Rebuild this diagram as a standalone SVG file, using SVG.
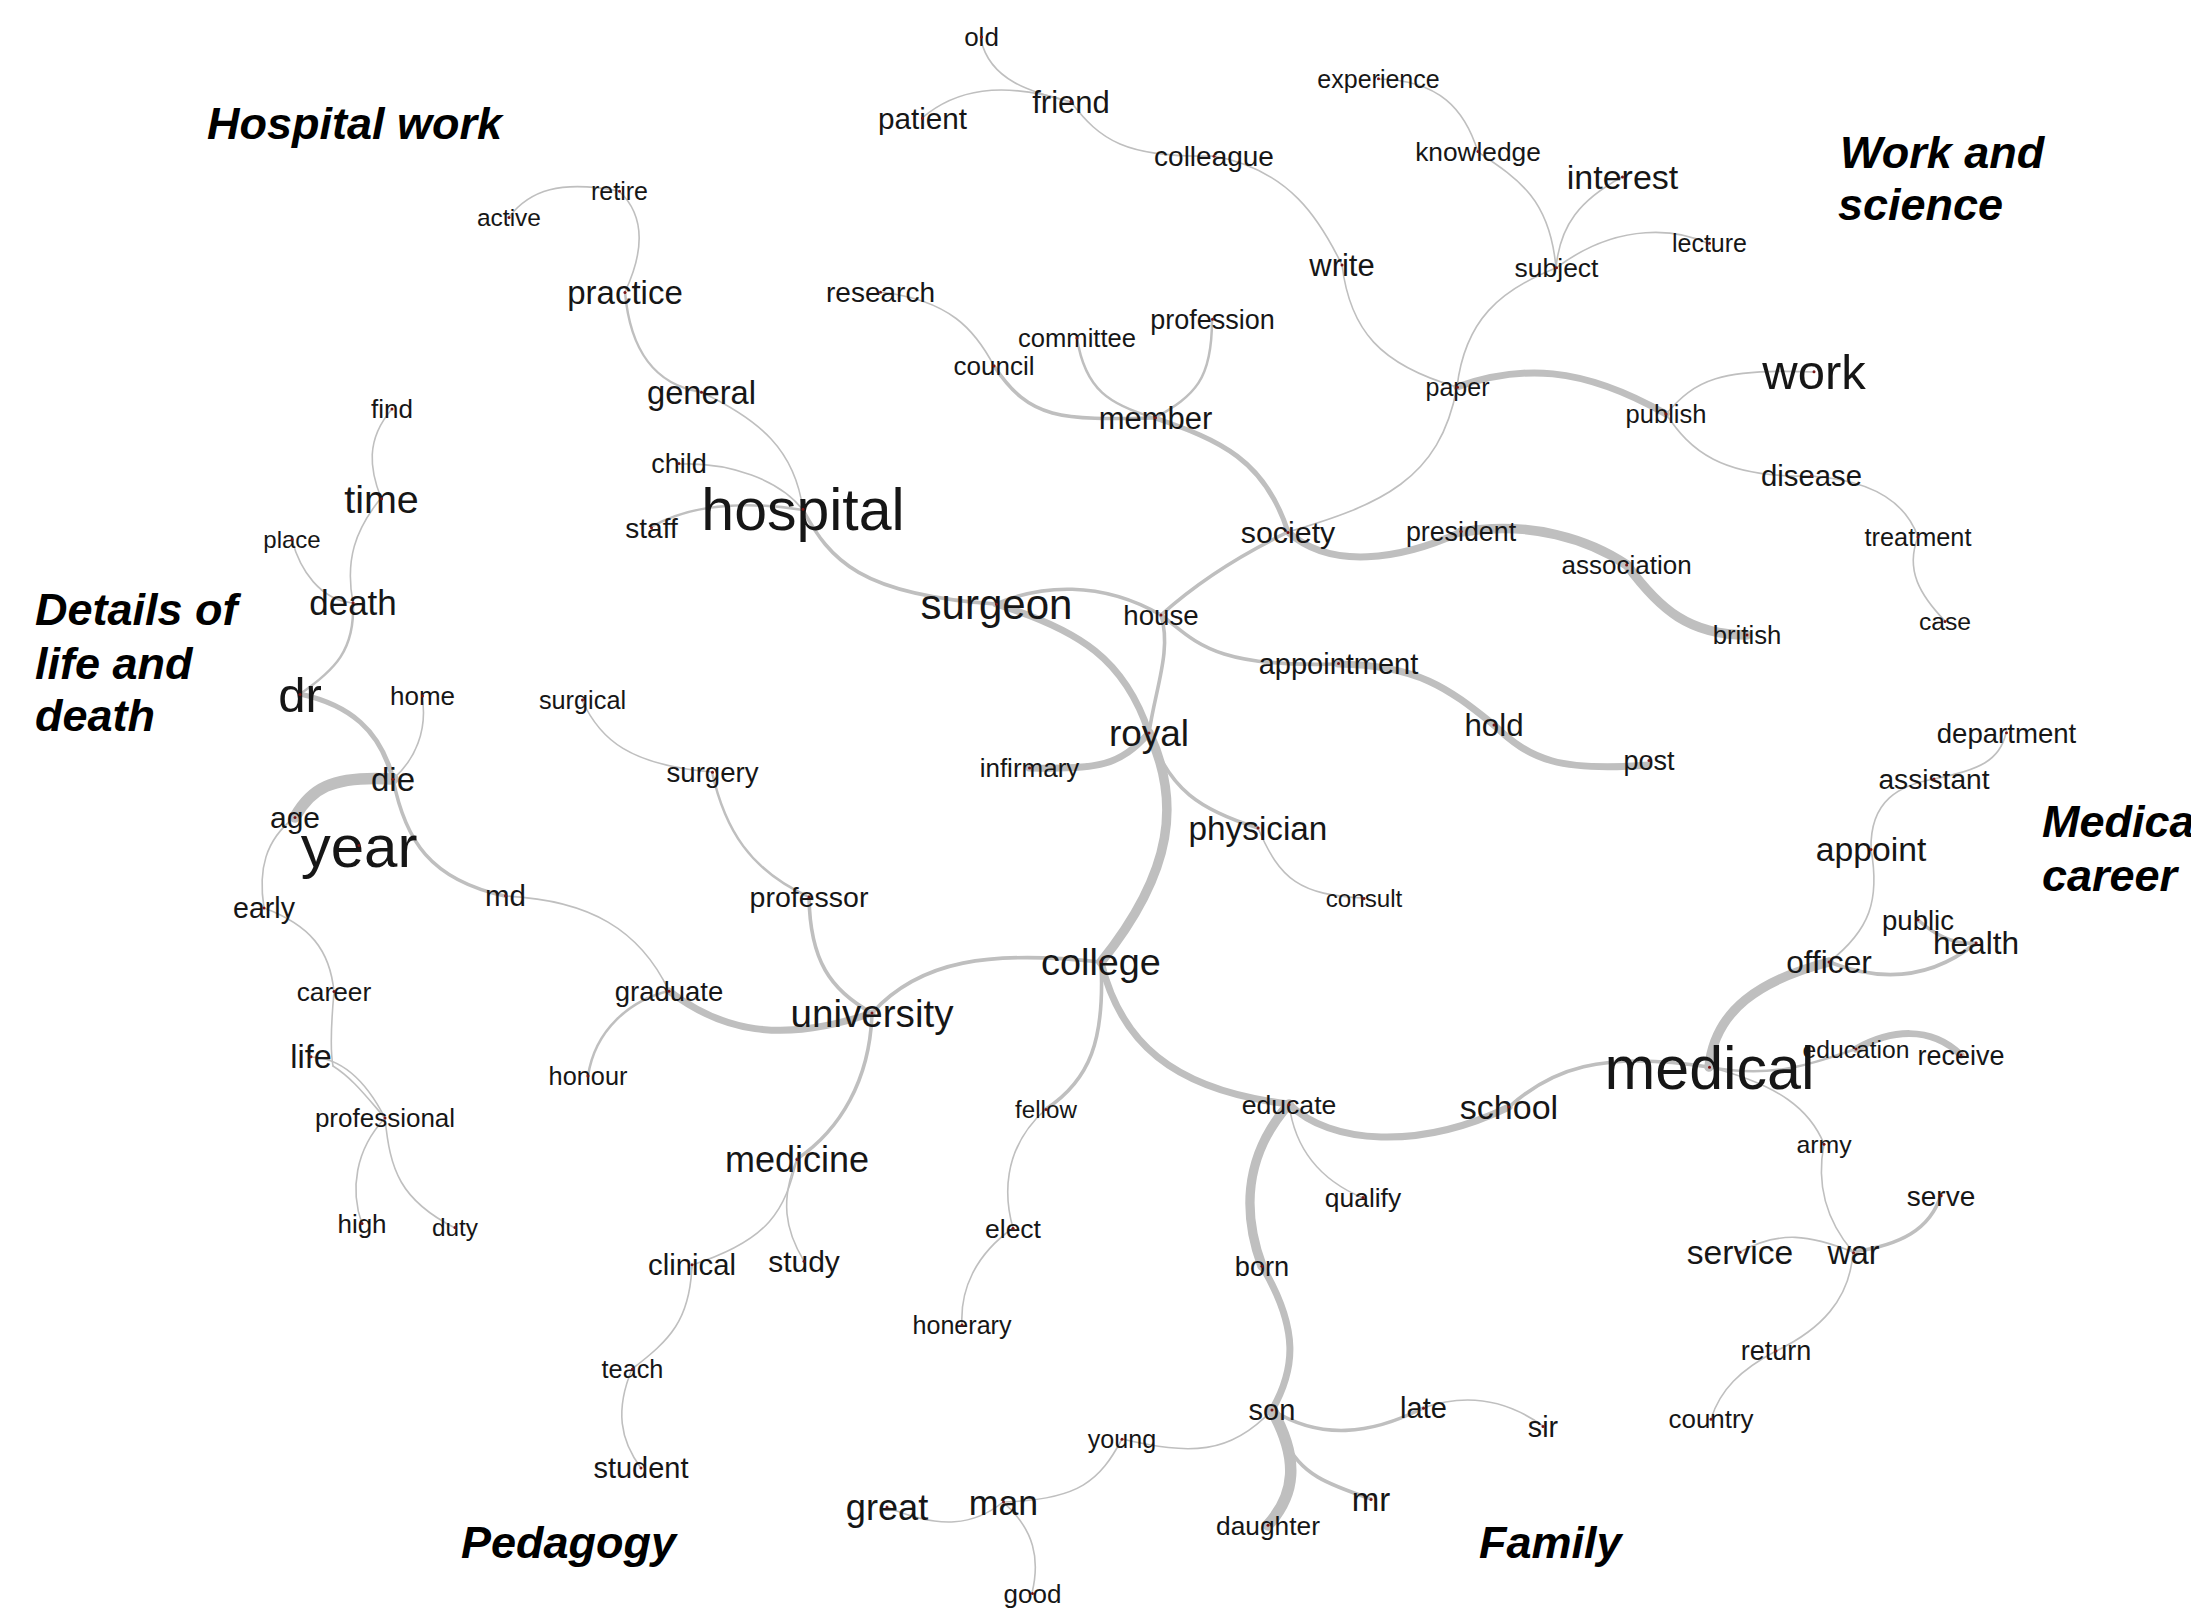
<svg xmlns="http://www.w3.org/2000/svg" width="2191" height="1620" viewBox="0 0 2191 1620">
<style>
.e{fill:none;stroke:#bfbfbf;stroke-linecap:round}
.e1{stroke-width:1.6}.e2{stroke-width:2.5}.e3{stroke-width:3.6}.e4{stroke-width:5}.e5{stroke-width:7}.e6{stroke-width:9.5}.e7{stroke-width:11.5}
text{font-family:"Liberation Sans",Arial,Helvetica,sans-serif;fill:#161616;text-anchor:middle}
.lab{font-weight:bold;font-style:italic;font-size:45px;fill:#000;text-anchor:start}
circle{fill:#7a1414}
</style>
<rect width="2191" height="1620" fill="#fff"/>
<g id="edges">
<path class="e e1" d="M981,40 C990,80 1030,92 1071,102"/>
<path class="e e1" d="M922,118 C955,90 1000,80 1071,102"/>
<path class="e e1" d="M1071,102 C1100,140 1125,158 1214,156"/>
<path class="e e1" d="M1214,156 C1290,170 1320,220 1342,265"/>
<path class="e e1" d="M1342,265 C1350,330 1380,365 1457,387"/>
<path class="e e1" d="M1378,79 C1440,80 1465,110 1478,152"/>
<path class="e e1" d="M1478,152 C1520,180 1550,200 1556,268"/>
<path class="e e1" d="M1622,177 C1580,200 1560,225 1556,268"/>
<path class="e e1" d="M1709,244 C1680,230 1620,220 1556,268"/>
<path class="e e1" d="M1556,268 C1500,290 1465,320 1457,387"/>
<path class="e e1" d="M1457,387 C1440,480 1380,505 1288,532"/>
<path class="e e5" d="M1457,387 C1520,365 1580,365 1666,414"/>
<path class="e e1" d="M1666,414 C1695,380 1720,368 1814,372"/>
<path class="e e1" d="M1666,414 C1690,450 1720,478 1811,476"/>
<path class="e e1" d="M1811,476 C1870,480 1905,500 1918,537"/>
<path class="e e1" d="M1918,537 C1905,570 1920,595 1945,621"/>
<path class="e e1" d="M880,292 C950,300 975,330 994,366"/>
<path class="e e3" d="M994,366 C1030,420 1060,420 1155,418"/>
<path class="e e2" d="M1077,338 C1085,390 1110,405 1155,418"/>
<path class="e e2" d="M1212,320 C1212,380 1195,395 1155,418"/>
<path class="e e4" d="M1155,418 C1220,440 1265,460 1288,532"/>
<path class="e e5" d="M1288,532 C1330,570 1400,560 1461,532"/>
<path class="e e6" d="M1461,532 C1530,520 1590,540 1627,565"/>
<path class="e e6" d="M1627,565 C1660,610 1690,635 1747,635"/>
<path class="e e3" d="M1288,532 C1240,555 1200,580 1161,615"/>
<path class="e e3" d="M1161,615 C1172,650 1155,690 1149,733"/>
<path class="e e3" d="M1161,615 C1195,640 1210,668 1338,664"/>
<path class="e e5" d="M1338,664 C1420,665 1450,690 1494,725"/>
<path class="e e5" d="M1494,725 C1530,760 1560,772 1649,765"/>
<path class="e e3" d="M996,604 C1040,585 1100,580 1161,615"/>
<path class="e e5" d="M996,604 C1080,630 1125,660 1149,733"/>
<path class="e e3" d="M803,510 C830,560 860,595 996,604"/>
<path class="e e1" d="M701,392 C760,420 795,450 803,510"/>
<path class="e e2" d="M625,292 C630,350 655,385 701,392"/>
<path class="e e1" d="M619,191 C650,220 640,260 625,292"/>
<path class="e e1" d="M509,217 C530,190 560,180 619,191"/>
<path class="e e1" d="M679,464 C730,462 780,480 803,510"/>
<path class="e e2" d="M651,527 C690,505 740,500 803,510"/>
<path class="e e1" d="M392,409 C365,440 370,470 381,498"/>
<path class="e e1" d="M381,498 C355,530 345,560 353,603"/>
<path class="e e1" d="M292,540 C300,570 320,600 353,603"/>
<path class="e e2" d="M353,603 C355,650 335,670 300,694"/>
<path class="e e4" d="M300,694 C350,705 380,730 393,779"/>
<path class="e e1" d="M422,696 C428,730 415,760 393,779"/>
<path class="e e7" d="M393,779 C330,775 310,790 295,817"/>
<path class="e e3" d="M393,779 C405,840 430,880 505,896"/>
<path class="e e1" d="M295,817 C265,840 258,870 264,908"/>
<path class="e e1" d="M264,908 C310,925 330,950 334,992"/>
<path class="e e1" d="M334,992 C331,1025 330,1050 333,1066"/>
<path class="e e1" d="M333,1066 C352,1078 365,1095 385,1118"/>
<path class="e e1" d="M311,1057 C345,1058 368,1085 385,1118"/>
<path class="e e1" d="M385,1118 C355,1150 350,1190 362,1224"/>
<path class="e e1" d="M385,1118 C390,1170 400,1200 455,1228"/>
<path class="e e1" d="M505,896 C590,900 640,930 669,991"/>
<path class="e e2" d="M669,991 C630,1000 595,1030 588,1076"/>
<path class="e e5" d="M669,991 C720,1030 780,1045 872,1013"/>
<path class="e e1" d="M582,700 C600,740 630,765 712,772"/>
<path class="e e2" d="M712,772 C725,830 750,870 809,897"/>
<path class="e e3" d="M809,897 C810,960 830,990 872,1013"/>
<path class="e e3" d="M872,1013 C920,960 990,950 1101,962"/>
<path class="e e3" d="M872,1013 C870,1080 840,1130 797,1159"/>
<path class="e e1" d="M797,1159 C785,1210 770,1240 692,1265"/>
<path class="e e1" d="M797,1159 C780,1200 785,1230 804,1261"/>
<path class="e e1" d="M692,1265 C690,1320 670,1340 632,1369"/>
<path class="e e1" d="M632,1369 C615,1410 620,1440 641,1468"/>
<path class="e e5" d="M1149,733 C1120,765 1100,770 1029,768"/>
<path class="e e6" d="M1149,733 C1180,800 1175,870 1101,962"/>
<path class="e e3" d="M1149,733 C1170,790 1200,810 1258,828"/>
<path class="e e1" d="M1258,828 C1280,880 1300,895 1364,898"/>
<path class="e e3" d="M1101,962 C1105,1040 1090,1080 1046,1109"/>
<path class="e e1" d="M1046,1109 C1000,1150 1005,1200 1013,1228"/>
<path class="e e1" d="M1013,1228 C975,1255 960,1290 962,1325"/>
<path class="e e5" d="M1101,962 C1120,1040 1170,1090 1289,1104"/>
<path class="e e5" d="M1289,1104 C1330,1145 1420,1150 1509,1107"/>
<path class="e e3" d="M1509,1107 C1550,1070 1600,1050 1709,1067"/>
<path class="e e1" d="M1289,1104 C1295,1150 1320,1180 1363,1198"/>
<path class="e e6" d="M1289,1104 C1240,1160 1245,1220 1262,1266"/>
<path class="e e5" d="M1262,1266 C1300,1330 1295,1370 1272,1410"/>
<path class="e e7" d="M1272,1410 C1300,1460 1295,1495 1268,1525"/>
<path class="e e3" d="M1272,1410 C1320,1440 1370,1435 1423,1408"/>
<path class="e e1" d="M1423,1408 C1460,1395 1500,1395 1543,1426"/>
<path class="e e1" d="M1272,1410 C1230,1455 1190,1455 1122,1439"/>
<path class="e e1" d="M1122,1439 C1100,1480 1080,1500 1003,1502"/>
<path class="e e1" d="M1003,1502 C975,1525 940,1530 887,1507"/>
<path class="e e1" d="M1003,1502 C1035,1530 1040,1560 1032,1593"/>
<path class="e e3" d="M1285,1440 C1300,1475 1330,1485 1371,1499"/>
<path class="e e6" d="M1709,1067 C1715,1010 1760,980 1829,962"/>
<path class="e e1" d="M1829,962 C1870,930 1880,900 1871,849"/>
<path class="e e1" d="M1871,849 C1870,800 1900,785 1934,779"/>
<path class="e e1" d="M1934,779 C1980,770 2000,760 2006,733"/>
<path class="e e3" d="M1829,962 C1880,982 1930,980 1976,943"/>
<path class="e e3" d="M1918,920 C1935,935 1955,945 1976,943"/>
<path class="e e2" d="M1709,1067 C1780,1080 1820,1060 1856,1049"/>
<path class="e e5" d="M1856,1049 C1890,1030 1930,1025 1961,1055"/>
<path class="e e1" d="M1709,1067 C1780,1085 1810,1110 1824,1144"/>
<path class="e e1" d="M1824,1144 C1815,1190 1830,1225 1853,1252"/>
<path class="e e1" d="M1740,1252 C1780,1230 1810,1235 1853,1252"/>
<path class="e e3" d="M1853,1252 C1900,1245 1930,1230 1941,1195"/>
<path class="e e1" d="M1853,1252 C1850,1300 1820,1330 1776,1351"/>
<path class="e e1" d="M1776,1351 C1740,1370 1720,1390 1711,1419"/>
</g>
<g id="labels">
<text class="lab" x="207" y="139">Hospital work</text>
<text class="lab" x="1840" y="168">Work and</text>
<text class="lab" x="1838" y="220">science</text>
<text class="lab" x="35" y="625">Details of</text>
<text class="lab" x="35" y="679">life and</text>
<text class="lab" x="35" y="731">death</text>
<text class="lab" x="2042" y="837">Medical</text>
<text class="lab" x="2042" y="891">career</text>
<text class="lab" x="461" y="1558">Pedagogy</text>
<text class="lab" x="1479" y="1558">Family</text>
</g>
<g id="n-old"><text x="981.5" y="46" font-size="26">old</text><circle cx="981.5" cy="37" r="1.5"/></g>
<g id="n-friend"><text x="1071" y="112.5" font-size="31">friend</text><circle cx="1071" cy="101.6" r="1.5"/></g>
<g id="n-patient"><text x="922.5" y="128.6" font-size="29.7">patient</text><circle cx="922.5" cy="118.2" r="1.5"/></g>
<g id="n-colleague"><text x="1214" y="166" font-size="28">colleague</text><circle cx="1214" cy="156.2" r="1.5"/></g>
<g id="n-experience"><text x="1378.5" y="87.5" font-size="25">experience</text><circle cx="1378.5" cy="78.8" r="1.5"/></g>
<g id="n-knowledge"><text x="1478" y="160.7" font-size="26.3">knowledge</text><circle cx="1478" cy="151.5" r="1.5"/></g>
<g id="n-interest"><text x="1622.5" y="189" font-size="34">interest</text><circle cx="1622.5" cy="177.1" r="1.5"/></g>
<g id="n-lecture"><text x="1709.5" y="252" font-size="25">lecture</text><circle cx="1709.5" cy="243.3" r="1.5"/></g>
<g id="n-subject"><text x="1556.5" y="277" font-size="26.5">subject</text><circle cx="1556.5" cy="267.7" r="1.5"/></g>
<g id="n-write"><text x="1342" y="276" font-size="31">write</text><circle cx="1342" cy="265.1" r="1.5"/></g>
<g id="n-research"><text x="880.5" y="302" font-size="28">research</text><circle cx="880.5" cy="292.2" r="1.5"/></g>
<g id="n-profession"><text x="1212.5" y="328.6" font-size="27">profession</text><circle cx="1212.5" cy="319.2" r="1.5"/></g>
<g id="n-committee"><text x="1077" y="347" font-size="25.6">committee</text><circle cx="1077" cy="338" r="1.5"/></g>
<g id="n-council"><text x="994" y="375" font-size="26">council</text><circle cx="994" cy="365.9" r="1.5"/></g>
<g id="n-member"><text x="1155.5" y="428.6" font-size="31">member</text><circle cx="1155.5" cy="417.7" r="1.5"/></g>
<g id="n-paper"><text x="1457.5" y="396" font-size="25">paper</text><circle cx="1457.5" cy="387.3" r="1.5"/></g>
<g id="n-work"><text x="1814" y="389" font-size="49">work</text><circle cx="1814" cy="371.8" r="1.5"/></g>
<g id="n-publish"><text x="1666" y="423" font-size="25.5">publish</text><circle cx="1666" cy="414.1" r="1.5"/></g>
<g id="n-disease"><text x="1811.5" y="486" font-size="29.3">disease</text><circle cx="1811.5" cy="475.7" r="1.5"/></g>
<g id="n-treatment"><text x="1918" y="546" font-size="25.3">treatment</text><circle cx="1918" cy="537.1" r="1.5"/></g>
<g id="n-case"><text x="1945" y="630" font-size="24.7">case</text><circle cx="1945" cy="621.4" r="1.5"/></g>
<g id="n-society"><text x="1288" y="543" font-size="30.4">society</text><circle cx="1288" cy="532.4" r="1.5"/></g>
<g id="n-president"><text x="1461" y="541" font-size="26.8">president</text><circle cx="1461" cy="531.6" r="1.5"/></g>
<g id="n-association"><text x="1626.6" y="574" font-size="26">association</text><circle cx="1626.6" cy="564.9" r="1.5"/></g>
<g id="n-british"><text x="1747" y="644" font-size="25.7">british</text><circle cx="1747" cy="635" r="1.5"/></g>
<g id="n-house"><text x="1161" y="624.7" font-size="27.7">house</text><circle cx="1161" cy="615" r="1.5"/></g>
<g id="n-surgeon"><text x="996.5" y="619" font-size="42">surgeon</text><circle cx="996.5" cy="604.3" r="1.5"/></g>
<g id="n-hospital"><text x="803" y="530" font-size="59">hospital</text><circle cx="803" cy="509.3" r="1.5"/></g>
<g id="n-child"><text x="679" y="473" font-size="27">child</text><circle cx="679" cy="463.6" r="1.5"/></g>
<g id="n-staff"><text x="651.5" y="537.5" font-size="28">staff</text><circle cx="651.5" cy="527.7" r="1.5"/></g>
<g id="n-general"><text x="701.5" y="403.6" font-size="32.7">general</text><circle cx="701.5" cy="392.2" r="1.5"/></g>
<g id="n-practice"><text x="625" y="304" font-size="33">practice</text><circle cx="625" cy="292.5" r="1.5"/></g>
<g id="n-retire"><text x="619.5" y="200" font-size="25">retire</text><circle cx="619.5" cy="191.3" r="1.5"/></g>
<g id="n-active"><text x="509" y="226" font-size="24.5">active</text><circle cx="509" cy="217.4" r="1.5"/></g>
<g id="n-find"><text x="392" y="418" font-size="26">find</text><circle cx="392" cy="408.9" r="1.5"/></g>
<g id="n-time"><text x="381.5" y="512.5" font-size="39.5">time</text><circle cx="381.5" cy="498.7" r="1.5"/></g>
<g id="n-place"><text x="292" y="548" font-size="24">place</text><circle cx="292" cy="539.6" r="1.5"/></g>
<g id="n-death"><text x="353" y="615" font-size="35">death</text><circle cx="353" cy="602.8" r="1.5"/></g>
<g id="n-dr"><text x="300" y="711.5" font-size="49">dr</text><circle cx="300" cy="694.4" r="1.5"/></g>
<g id="n-home"><text x="422.5" y="705" font-size="26">home</text><circle cx="422.5" cy="695.9" r="1.5"/></g>
<g id="n-die"><text x="393" y="790.7" font-size="33">die</text><circle cx="393" cy="779.2" r="1.5"/></g>
<g id="n-age"><text x="295" y="828" font-size="30">age</text><circle cx="295" cy="817.5" r="1.5"/></g>
<g id="n-year"><text x="359" y="866.5" font-size="60">year</text><circle cx="359" cy="845.5" r="1.5"/></g>
<g id="n-early"><text x="264" y="918" font-size="28.6">early</text><circle cx="264" cy="908" r="1.5"/></g>
<g id="n-md"><text x="505.5" y="906" font-size="29.5">md</text><circle cx="505.5" cy="895.7" r="1.5"/></g>
<g id="n-career"><text x="334" y="1000.8" font-size="26.3">career</text><circle cx="334" cy="991.6" r="1.5"/></g>
<g id="n-life"><text x="311" y="1068" font-size="32.4">life</text><circle cx="311" cy="1056.7" r="1.5"/></g>
<g id="n-professional"><text x="385" y="1127.2" font-size="26">professional</text><circle cx="385" cy="1118.1" r="1.5"/></g>
<g id="n-high"><text x="362" y="1232.7" font-size="26">high</text><circle cx="362" cy="1223.6" r="1.5"/></g>
<g id="n-duty"><text x="455" y="1236" font-size="24.4">duty</text><circle cx="455" cy="1227.5" r="1.5"/></g>
<g id="n-surgical"><text x="582.5" y="709" font-size="25.3">surgical</text><circle cx="582.5" cy="700.1" r="1.5"/></g>
<g id="n-surgery"><text x="712.5" y="782" font-size="27.6">surgery</text><circle cx="712.5" cy="772.3" r="1.5"/></g>
<g id="n-professor"><text x="809" y="907" font-size="28.5">professor</text><circle cx="809" cy="897" r="1.5"/></g>
<g id="n-graduate"><text x="669" y="1000.8" font-size="27.5">graduate</text><circle cx="669" cy="991.2" r="1.5"/></g>
<g id="n-honour"><text x="588" y="1085" font-size="25.3">honour</text><circle cx="588" cy="1076.1" r="1.5"/></g>
<g id="n-university"><text x="872" y="1026.6" font-size="38.6">university</text><circle cx="872" cy="1013.1" r="1.5"/></g>
<g id="n-medicine"><text x="797" y="1172" font-size="36">medicine</text><circle cx="797" cy="1159.4" r="1.5"/></g>
<g id="n-clinical"><text x="692" y="1275" font-size="29.3">clinical</text><circle cx="692" cy="1264.7" r="1.5"/></g>
<g id="n-study"><text x="804" y="1271.8" font-size="30">study</text><circle cx="804" cy="1261.3" r="1.5"/></g>
<g id="n-teach"><text x="632.5" y="1378" font-size="25.3">teach</text><circle cx="632.5" cy="1369.1" r="1.5"/></g>
<g id="n-student"><text x="641" y="1478" font-size="29">student</text><circle cx="641" cy="1467.9" r="1.5"/></g>
<g id="n-college"><text x="1101" y="975" font-size="37.8">college</text><circle cx="1101" cy="961.8" r="1.5"/></g>
<g id="n-royal"><text x="1149" y="746" font-size="37">royal</text><circle cx="1149" cy="733" r="1.5"/></g>
<g id="n-infirmary"><text x="1029.5" y="777" font-size="26">infirmary</text><circle cx="1029.5" cy="767.9" r="1.5"/></g>
<g id="n-physician"><text x="1258" y="839.6" font-size="33.3">physician</text><circle cx="1258" cy="827.9" r="1.5"/></g>
<g id="n-consult"><text x="1364" y="907" font-size="24.2">consult</text><circle cx="1364" cy="898.5" r="1.5"/></g>
<g id="n-appointment"><text x="1338.5" y="673.6" font-size="29">appointment</text><circle cx="1338.5" cy="663.5" r="1.5"/></g>
<g id="n-hold"><text x="1494" y="736" font-size="31.3">hold</text><circle cx="1494" cy="725" r="1.5"/></g>
<g id="n-post"><text x="1649" y="770" font-size="27">post</text><circle cx="1649" cy="760.6" r="1.5"/></g>
<g id="n-fellow"><text x="1046" y="1118" font-size="24.2">fellow</text><circle cx="1046" cy="1109.5" r="1.5"/></g>
<g id="n-elect"><text x="1013" y="1237.6" font-size="26.5">elect</text><circle cx="1013" cy="1228.3" r="1.5"/></g>
<g id="n-honerary"><text x="962" y="1333.8" font-size="25.1">honerary</text><circle cx="962" cy="1325" r="1.5"/></g>
<g id="n-educate"><text x="1289" y="1114" font-size="26.6">educate</text><circle cx="1289" cy="1104.7" r="1.5"/></g>
<g id="n-qualify"><text x="1363" y="1206.8" font-size="26.4">qualify</text><circle cx="1363" cy="1197.6" r="1.5"/></g>
<g id="n-born"><text x="1262" y="1275.8" font-size="27.2">born</text><circle cx="1262" cy="1266.3" r="1.5"/></g>
<g id="n-son"><text x="1272" y="1420" font-size="29">son</text><circle cx="1272" cy="1409.9" r="1.5"/></g>
<g id="n-late"><text x="1423.5" y="1418.4" font-size="29">late</text><circle cx="1423.5" cy="1408.3" r="1.5"/></g>
<g id="n-sir"><text x="1543" y="1436.6" font-size="28.7">sir</text><circle cx="1543" cy="1426.6" r="1.5"/></g>
<g id="n-young"><text x="1122" y="1448" font-size="25.1">young</text><circle cx="1122" cy="1439.2" r="1.5"/></g>
<g id="n-man"><text x="1003.5" y="1514.6" font-size="35.7">man</text><circle cx="1003.5" cy="1502.1" r="1.5"/></g>
<g id="n-great"><text x="887" y="1519.6" font-size="36.2">great</text><circle cx="887" cy="1506.9" r="1.5"/></g>
<g id="n-good"><text x="1032.5" y="1602.5" font-size="26">good</text><circle cx="1032.5" cy="1593.4" r="1.5"/></g>
<g id="n-mr"><text x="1371" y="1511" font-size="33">mr</text><circle cx="1371" cy="1499.5" r="1.5"/></g>
<g id="n-daughter"><text x="1268" y="1534.5" font-size="26.3">daughter</text><circle cx="1268" cy="1525.3" r="1.5"/></g>
<g id="n-school"><text x="1509" y="1119" font-size="34">school</text><circle cx="1509" cy="1107.1" r="1.5"/></g>
<g id="n-medical"><text x="1709.5" y="1088.6" font-size="61">medical</text><circle cx="1709.5" cy="1067.3" r="1.5"/></g>
<g id="n-education"><text x="1856" y="1057.6" font-size="24.7">education</text><circle cx="1856" cy="1049" r="1.5"/></g>
<g id="n-receive"><text x="1961" y="1064.5" font-size="27">receive</text><circle cx="1961" cy="1055" r="1.5"/></g>
<g id="n-officer"><text x="1829" y="973" font-size="31.6">officer</text><circle cx="1829" cy="962" r="1.5"/></g>
<g id="n-public"><text x="1918" y="929.5" font-size="27.6">public</text><circle cx="1918" cy="919.8" r="1.5"/></g>
<g id="n-health"><text x="1976" y="954" font-size="31.6">health</text><circle cx="1976" cy="943" r="1.5"/></g>
<g id="n-appoint"><text x="1871" y="861.3" font-size="33.7">appoint</text><circle cx="1871" cy="849.5" r="1.5"/></g>
<g id="n-assistant"><text x="1934" y="789" font-size="28.2">assistant</text><circle cx="1934" cy="779.1" r="1.5"/></g>
<g id="n-department"><text x="2006.5" y="742.5" font-size="27.6">department</text><circle cx="2006.5" cy="732.8" r="1.5"/></g>
<g id="n-army"><text x="1824" y="1153" font-size="24.8">army</text><circle cx="1824" cy="1144.3" r="1.5"/></g>
<g id="n-serve"><text x="1941" y="1205.5" font-size="28">serve</text><circle cx="1941" cy="1195.7" r="1.5"/></g>
<g id="n-service"><text x="1740" y="1264" font-size="33.6">service</text><circle cx="1740" cy="1252.2" r="1.5"/></g>
<g id="n-war"><text x="1853.5" y="1264" font-size="32.4">war</text><circle cx="1853.5" cy="1252.7" r="1.5"/></g>
<g id="n-return"><text x="1776" y="1360.4" font-size="27">return</text><circle cx="1776" cy="1351" r="1.5"/></g>
<g id="n-country"><text x="1711" y="1428.4" font-size="25.9">country</text><circle cx="1711" cy="1419.3" r="1.5"/></g>
</svg>
